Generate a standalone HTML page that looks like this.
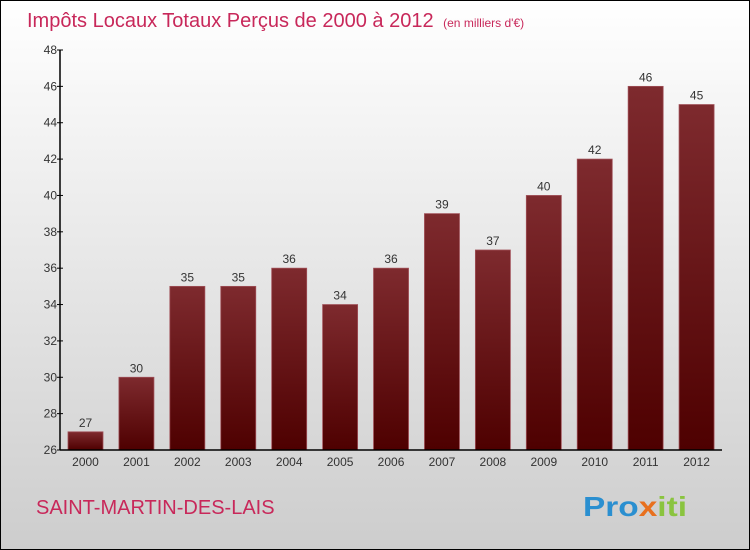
<!DOCTYPE html>
<html><head><meta charset="utf-8"><style>
html,body{margin:0;padding:0}
body{width:750px;height:550px;overflow:hidden;font-family:"Liberation Sans",sans-serif}
#frame{position:absolute;left:0;top:0;width:748px;height:548px;border:1px solid #000;background:linear-gradient(#ffffff,#cdcdcd)}
</style></head><body>
<div id="frame"></div>
<svg id="chart" width="750" height="550" style="position:absolute;left:0;top:0">
<defs>
<linearGradient id="bg" x1="0" y1="0" x2="0" y2="1"><stop offset="0" stop-color="#7e2a2e"/><stop offset="1" stop-color="#4e0000"/></linearGradient>
</defs>
<text x="27" y="27" font-size="20" fill="#c8285a">Impôts Locaux Totaux Perçus de 2000 à 2012 <tspan font-size="12" dx="4">(en milliers d'€)</tspan></text>
<text x="36" y="514" font-size="20" fill="#c8285a">SAINT-MARTIN-DES-LAIS</text>
<text x="583" y="516" font-size="28" font-weight="bold" textLength="104" lengthAdjust="spacingAndGlyphs"><tspan fill="#2a8fd0">Pro</tspan><tspan fill="#e8701e">x</tspan><tspan fill="#8ac43f">iti</tspan></text>
<g id="plot"></g>
</svg>
<script>
const years=["2000","2001","2002","2003","2004","2005","2006","2007","2008","2009","2010","2011","2012"];
const values=[27,30,35,35,36,34,36,39,37,40,42,46,45];
const yTicks=[26,28,30,32,34,36,38,40,42,44,46,48];
const X0=60,X1=722,Y0=450,Y1=50,VMIN=26,VMAX=48;
const band=(X1-X0)/years.length;
function y(v){return Y0-(v-VMIN)/(VMAX-VMIN)*(Y0-Y1);}
function x(i){return X0+i*band;}
const NS="http://www.w3.org/2000/svg";
const g=document.getElementById('plot');
function el(t,a,txt){const e=document.createElementNS(NS,t);for(const k in a)e.setAttribute(k,a[k]);if(txt!==undefined)e.textContent=txt;g.appendChild(e);return e;}
values.forEach((v,i)=>{
  const b=el('rect',{x:x(i)+8,y:y(v),width:35,height:Y0-y(v),fill:'url(#bg)',stroke:'#a05058','stroke-width':0.8});
  
  
  const t=el('text',{x:x(i)+25.5,y:y(v)-5,'text-anchor':'middle','font-size':12,fill:'#333'},v);
  
  
  const xl=el('text',{x:x(i)+25.5,y:466,'text-anchor':'middle','font-size':12,fill:'#333'},years[i]);
  
  
});
yTicks.forEach(v=>{
  const tk=el('line',{x1:X0-3,x2:X0+3,y1:y(v),y2:y(v),stroke:'#000'});
  
  
  const l=el('text',{x:X0-3,y:y(v)+4,'text-anchor':'end','font-size':12,fill:'#333'},v);
  
  
});
const ya=el('line',{x1:X0,x2:X0,y1:Y1,y2:Y0,stroke:'#000','stroke-width':1.5});


const xa=el('line',{x1:X0,x2:X1,y1:Y0,y2:Y0,stroke:'#000','stroke-width':1.5});


</script>
</body></html>
